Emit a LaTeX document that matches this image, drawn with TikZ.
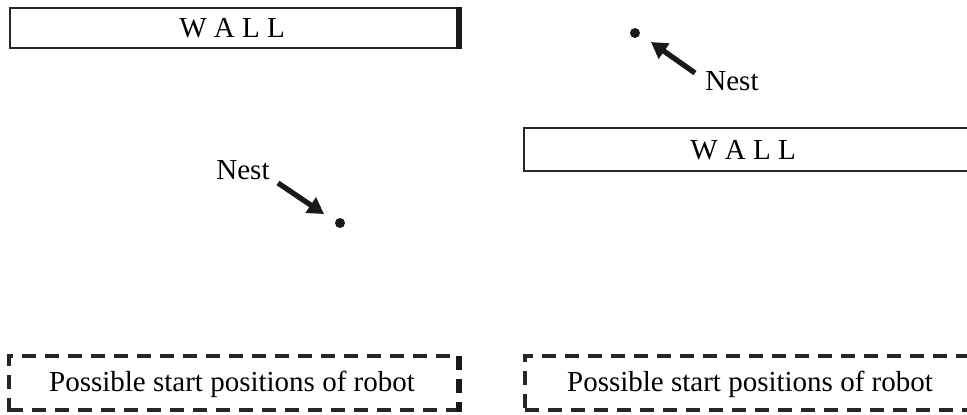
\documentclass[tikz,border=0pt]{standalone}
\usepackage{fontspec}
\setmainfont{Liberation Serif}
\usetikzlibrary{arrows.meta}
\begin{document}
\begin{tikzpicture}[x=1pt,y=-1pt,
  wallbox/.style={draw=black!85,line width=2.8pt},
  startbox/.style={draw=black!85,line width=3.2pt,dash pattern=on 14pt off 9pt},
  lbl/.style={font=\fontsize{29}{33}\selectfont,inner sep=0pt},
  nestdot/.style={circle,fill=black!90,inner sep=0pt,minimum size=10pt},
  pointer/.style={line width=5.3pt,black!90,-{Triangle[length=16pt,width=18pt]}}]
\useasboundingbox (0,0) rectangle (967,415);
% left panel
\draw[wallbox] (10,8) rectangle (459,48);
\draw[line width=5.5pt,black!90] (459,6.6) -- (459,49.4);
\node[lbl] (lwall) at (232,28) {W A L L};
\node[nestdot] (lnest) at (340,223) {};
\node[lbl] (llab) at (243,170) {Nest};
\coordinate (ltail) at (278,183);
\coordinate (ltip) at (324,214);
\draw[pointer] (ltail) -- (ltip);
\draw[startbox] (9,412) -- (9,356) -- (459,356);
\draw[startbox] (9,410) -- (459,410);
\draw[line width=5.5pt,black!90,dash pattern=on 14pt off 9pt] (459,356) -- (459,412);
\node[lbl] (lstart) at (232,384) {Possible start positions of robot};
% right panel
\draw[wallbox] (970,128) -- (524,128) -- (524,171) -- (970,171);
\node[lbl] (rwall) at (743,150) {W A L L};
\node[nestdot] (rnest) at (635,33) {};
\node[lbl] (rlab) at (732,81) {Nest};
\coordinate (rtail) at (695,73);
\coordinate (rtip) at (651,42);
\draw[pointer] (rtail) -- (rtip);
\draw[startbox] (970,356) -- (525,356) -- (525,412);
\draw[startbox] (525,410) -- (970,410);
\node[lbl] (rstart) at (750,384) {Possible start positions of robot};
\end{tikzpicture}
\end{document}
